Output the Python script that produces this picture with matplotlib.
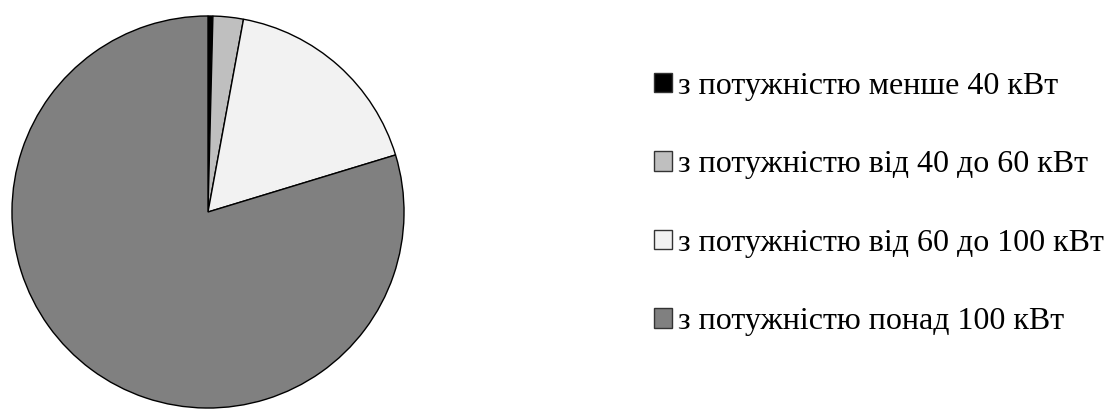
import matplotlib.pyplot as plt
from matplotlib.patches import Patch

labels = [
    "з потужністю менше 40 кВт",
    "з потужністю від 40 до 60 кВт",
    "з потужністю від 60 до 100 кВт",
    "з потужністю понад 100 кВт",
]
shares = [0.4, 2.5, 17.4, 79.7]
colors = ["#000000", "#bfbfbf", "#f2f2f2", "#808080"]

plt.rcParams['font.family'] = ['Liberation Serif', 'DejaVu Serif']

fig = plt.figure(figsize=(11.07, 4.09), dpi=100)
ax = fig.add_axes([11 / 1107, 0 / 409, 394 / 1107, 394 / 409])
ax.pie(shares, colors=colors, startangle=90, counterclock=False, radius=1,
       wedgeprops=dict(edgecolor="black", linewidth=1.0))
ax.set_xlim(-1.005, 1.005)
ax.set_ylim(-1.005, 1.005)
ax.set_aspect("equal")
ax.axis("off")

handles = [Patch(facecolor=c, edgecolor="#333333", linewidth=1.0) for c in colors]
fig.legend(handles, labels, loc="center left", bbox_to_anchor=(654 / 1107, 205 / 409),
           frameon=False, fontsize=23, handlelength=0.55, handleheight=0.55,
           handletextpad=0.2, labelspacing=1.55, borderpad=0, borderaxespad=0)

fig.savefig("out.png", dpi=100)
